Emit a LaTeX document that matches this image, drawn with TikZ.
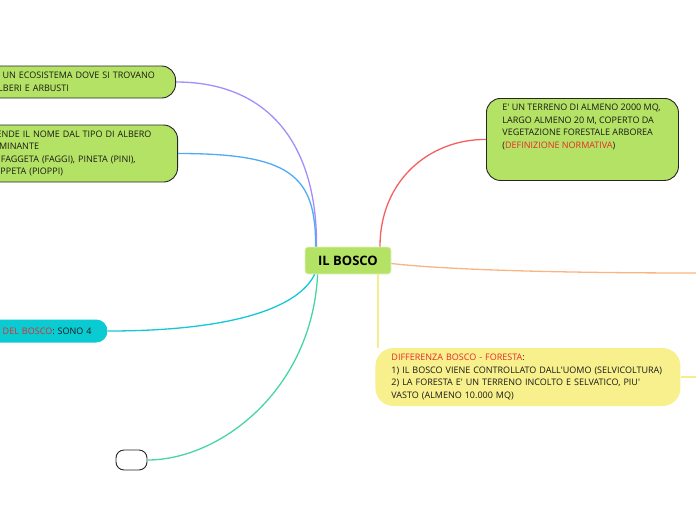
\documentclass[tikz,border=0pt]{standalone}
\usepackage{fontspec}
\setmainfont{Open Sans}
\definecolor{leafgreen}{RGB}{180,226,100}
\definecolor{sunyellow}{RGB}{247,240,140}
\definecolor{lakecyan}{RGB}{10,202,210}
\definecolor{notered}{RGB}{232,40,40}
\definecolor{linepurple}{RGB}{165,140,250}
\definecolor{lineblue}{RGB}{80,170,245}
\definecolor{linered}{RGB}{245,95,95}
\definecolor{lineorange}{RGB}{250,180,130}
\definecolor{lineyellow}{RGB}{245,238,140}
\definecolor{linecyan}{RGB}{20,200,215}
\definecolor{lineteal}{RGB}{70,215,160}
\newcommand{\apo}{\textquotesingle}

\begin{document}
\begin{tikzpicture}[
    x=1pt, y=-1pt,
    leafbox/.style={rectangle, rounded corners=14pt, draw=black!85, line width=0.9pt, fill=leafgreen, inner xsep=16pt, inner ysep=0pt, align=left, font=\fontsize{9}{12.5}\selectfont, text=black!90},
    rootbox/.style={rectangle, rounded corners=3pt, draw=leafgreen!40!white, line width=0.8pt, fill=leafgreen, minimum width=86pt, minimum height=27pt, font=\fontsize{13}{15}\selectfont\bfseries},
    branch/.style={line width=1.3pt}
]
\useasboundingbox (0,0) rectangle (696,520);
\node[rootbox] (bosco) at (348,260.5) {IL BOSCO};
\node[leafbox, anchor=east, text width=167pt, minimum height=32pt] (eco) at (176,82) {E\apo{} UN ECOSISTEMA DOVE SI TROVANO\\ALBERI E ARBUSTI};
\node[leafbox, anchor=east, text width=176pt, minimum height=57pt] (tipo) at (178,153.5) {PRENDE IL NOME DAL TIPO DI ALBERO\\DOMINANTE\\ES. FAGGETA (FAGGI), PINETA (PINI),\\PIOPPETA (PIOPPI)};
\node[leafbox, anchor=north west, inner ysep=6pt] (def) at (486,98) {\parbox[c][70pt][t]{160pt}{\raggedright E\apo{} UN TERRENO DI ALMENO 2000 MQ,\\LARGO ALMENO 20 M, COPERTO DA\\VEGETAZIONE FORESTALE ARBOREA\\({\color{notered}DEFINIZIONE NORMATIVA})}};
\node[leafbox, anchor=east, draw=none, fill=lakecyan, rounded corners=11.5pt, minimum height=23pt, text width=110pt, align=right] (tipologie) at (108,331) {{\color{notered}DEL BOSCO}: SONO 4};
\node[leafbox, anchor=west, draw=none, fill=sunyellow, rounded corners=18pt, text width=273pt, minimum height=58pt] (diff) at (375,377) {{\color{notered}DIFFERENZA BOSCO - FORESTA}:\\1) IL BOSCO VIENE CONTROLLATO DALL\apo{}UOMO (SELVICOLTURA)\\2) LA FORESTA E\apo{} UN TERRENO INCOLTO E SELVATICO, PIU\apo{}\\VASTO (ALMENO 10.000 MQ)};
\node[rectangle, rounded corners=8pt, draw=black!85, line width=0.9pt, fill=white, minimum width=31pt, minimum height=20pt] (vuoto) at (131.5,460) {};
\coordinate (fuori) at (700,273);
\coordinate (fuori2) at (700,377);
\draw[branch, linepurple] ([xshift=12pt]bosco.north west) .. controls (317,140) and (265,82) .. (eco.east);
\draw[branch, lineblue] ([xshift=11pt]bosco.north west) .. controls (316,175) and (290,153.5) .. (tipo.east);
\draw[branch, linered] ([xshift=32pt]bosco.north) .. controls (380,180) and (430,139) .. (def.west);
\draw[branch, lineorange] ([yshift=-3pt]bosco.east) .. controls (430,268) and (520,273) .. (fuori);
\draw[branch, lineyellow] ([xshift=30pt]bosco.south) -- ([xshift=30pt]bosco.south |- diff.north);
\draw[branch, lineyellow] (diff.east) -- (fuori2);
\draw[branch, linecyan] ([xshift=10pt]bosco.south west) .. controls (300,305) and (240,331) .. (tipologie.east);
\draw[branch, lineteal] ([xshift=13pt]bosco.south west) .. controls (312,390) and (220,460) .. (vuoto.east);
\end{tikzpicture}
\end{document}
